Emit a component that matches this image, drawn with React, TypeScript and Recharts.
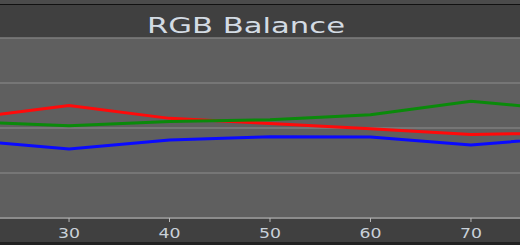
import { CartesianGrid, Customized, Line, LineChart, XAxis, YAxis } from 'recharts';

const levels = [20, 30, 40, 50, 60, 70, 80];
const red = [101.1, 102.5, 101.07, 100.5, 99.92, 99.29, 99.44];
const green = [100.69, 100.26, 100.73, 100.92, 101.48, 102.96, 101.97];
const blue = [98.64, 97.67, 98.67, 99.03, 99.0, 98.11, 99.02];
const xTicks = [30, 40, 50, 60, 70];
const yTicks = [90, 95, 100, 105, 110];

const data = levels.map((lvl, i) => ({ lvl, r: red[i], g: green[i], b: blue[i] }));

const W = 520;
const H = 245;

function Title() {
  return (
    <text
      x={246}
      y={33}
      textAnchor="middle"
      fontFamily="DejaVu Sans"
      fontSize={22}
      fill="#d3dbe3"
      textLength={198}
      lengthAdjust="spacingAndGlyphs"
    >
      RGB Balance
    </text>
  );
}

function Tick({ x, y, payload }: any) {
  return (
    <text
      x={x}
      y={y + 14}
      textAnchor="middle"
      fontFamily="DejaVu Sans"
      fontSize={14}
      fill="#c9d1d9"
      textLength={22}
      lengthAdjust="spacingAndGlyphs"
    >
      {payload.value}
    </text>
  );
}

export default function App() {
  return (
    <div style={{ position: 'absolute', left: 0, top: 0, width: W, height: H, background: '#404040' }}>
      <div style={{ position: 'absolute', left: 0, top: 0, width: W, height: 4, background: '#4b4b4b' }} />
      <div style={{ position: 'absolute', left: 0, top: 4, width: W, height: 1, background: '#111' }} />
      <div style={{ position: 'absolute', left: 0, top: 242, width: W, height: 3, background: '#222' }} />
      <div style={{ position: 'absolute', left: 0, top: 0 }}>
        <LineChart width={W} height={H} data={data} margin={{ top: 38, right: 0, bottom: 0, left: 0 }}>
          <CartesianGrid vertical={false} fill="#5f5f5f" stroke="#7e7e7e" strokeWidth={1.5} />
          <XAxis
            dataKey="lvl"
            type="number"
            domain={[23.13, 74.88]}
            allowDataOverflow
            ticks={xTicks}
            height={27}
            tickSize={4}
            axisLine={{ stroke: '#8c8c8c', strokeWidth: 2 }}
            tickLine={{ stroke: '#b8b8b8' }}
            tick={<Tick />}
          />
          <YAxis hide domain={[90, 110]} ticks={yTicks} allowDataOverflow />
          <Line dataKey="r" stroke="#ff0a0a" strokeWidth={3} dot={false} isAnimationActive={false} />
          <Line dataKey="g" stroke="#0a8a0a" strokeWidth={3} dot={false} isAnimationActive={false} />
          <Line dataKey="b" stroke="#0a0aff" strokeWidth={3} dot={false} isAnimationActive={false} />
          <Customized component={Title} />
        </LineChart>
      </div>
    </div>
  );
}
